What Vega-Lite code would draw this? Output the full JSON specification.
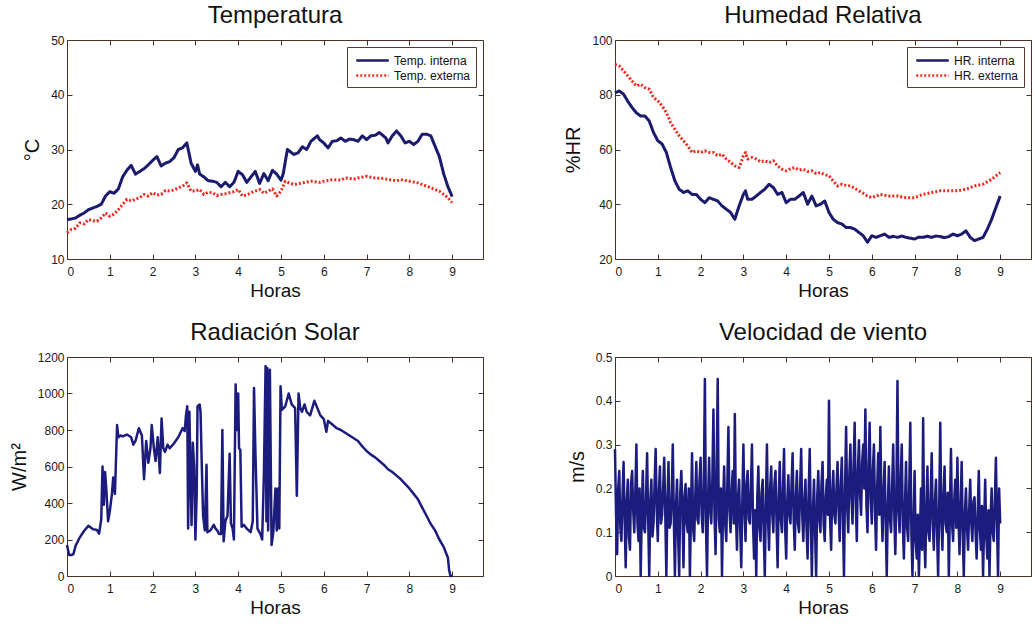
{
  "$schema": "https://vega.github.io/schema/vega-lite/v6.json",
  "padding": {"left": 8, "top": 3, "right": 0, "bottom": 0},
  "background": "white",
  "columns": 2,
  "bounds": "flush",
  "spacing": {"row": 98, "column": 132},
  "resolve": {"scale": {"color": "independent", "strokeDash": "independent"}, "legend": {"color": "independent", "strokeDash": "independent"}},
  "datasets": {
    "temp": [
      {"h":0,"v":17.2,"s":"Temp. interna"},{"h":0.1,"v":17.3,"s":"Temp. interna"},{"h":0.2,"v":17.5,"s":"Temp. interna"},{"h":0.3,"v":18.0,"s":"Temp. interna"},{"h":0.4,"v":18.4,"s":"Temp. interna"},{"h":0.5,"v":19.0,"s":"Temp. interna"},{"h":0.6,"v":19.3,"s":"Temp. interna"},{"h":0.7,"v":19.6,"s":"Temp. interna"},{"h":0.8,"v":20.0,"s":"Temp. interna"},{"h":0.9,"v":21.5,"s":"Temp. interna"},{"h":1.0,"v":22.3,"s":"Temp. interna"},{"h":1.1,"v":22.0,"s":"Temp. interna"},{"h":1.2,"v":22.8,"s":"Temp. interna"},{"h":1.3,"v":25.0,"s":"Temp. interna"},{"h":1.4,"v":26.2,"s":"Temp. interna"},{"h":1.5,"v":27.1,"s":"Temp. interna"},{"h":1.6,"v":25.5,"s":"Temp. interna"},{"h":1.7,"v":26.0,"s":"Temp. interna"},{"h":1.8,"v":26.5,"s":"Temp. interna"},{"h":1.9,"v":27.2,"s":"Temp. interna"},{"h":2.0,"v":28.0,"s":"Temp. interna"},{"h":2.1,"v":28.7,"s":"Temp. interna"},{"h":2.2,"v":27.0,"s":"Temp. interna"},{"h":2.3,"v":27.5,"s":"Temp. interna"},{"h":2.4,"v":27.8,"s":"Temp. interna"},{"h":2.5,"v":28.5,"s":"Temp. interna"},{"h":2.6,"v":30.0,"s":"Temp. interna"},{"h":2.7,"v":30.3,"s":"Temp. interna"},{"h":2.8,"v":31.2,"s":"Temp. interna"},{"h":2.9,"v":27.5,"s":"Temp. interna"},{"h":3.0,"v":26.0,"s":"Temp. interna"},{"h":3.05,"v":27.2,"s":"Temp. interna"},{"h":3.1,"v":25.5,"s":"Temp. interna"},{"h":3.2,"v":25.0,"s":"Temp. interna"},{"h":3.3,"v":24.3,"s":"Temp. interna"},{"h":3.4,"v":24.2,"s":"Temp. interna"},{"h":3.5,"v":24.0,"s":"Temp. interna"},{"h":3.6,"v":23.2,"s":"Temp. interna"},{"h":3.7,"v":24.0,"s":"Temp. interna"},{"h":3.8,"v":23.2,"s":"Temp. interna"},{"h":3.9,"v":24.0,"s":"Temp. interna"},{"h":4.0,"v":26.0,"s":"Temp. interna"},{"h":4.1,"v":25.4,"s":"Temp. interna"},{"h":4.2,"v":24.0,"s":"Temp. interna"},{"h":4.3,"v":25.0,"s":"Temp. interna"},{"h":4.4,"v":26.0,"s":"Temp. interna"},{"h":4.5,"v":23.8,"s":"Temp. interna"},{"h":4.6,"v":25.6,"s":"Temp. interna"},{"h":4.7,"v":24.3,"s":"Temp. interna"},{"h":4.8,"v":26.2,"s":"Temp. interna"},{"h":4.9,"v":25.5,"s":"Temp. interna"},{"h":5.0,"v":24.4,"s":"Temp. interna"},{"h":5.05,"v":25.5,"s":"Temp. interna"},{"h":5.15,"v":30.0,"s":"Temp. interna"},{"h":5.3,"v":29.1,"s":"Temp. interna"},{"h":5.4,"v":29.4,"s":"Temp. interna"},{"h":5.5,"v":30.5,"s":"Temp. interna"},{"h":5.6,"v":30.0,"s":"Temp. interna"},{"h":5.7,"v":31.5,"s":"Temp. interna"},{"h":5.85,"v":32.5,"s":"Temp. interna"},{"h":5.9,"v":31.8,"s":"Temp. interna"},{"h":6.0,"v":31.2,"s":"Temp. interna"},{"h":6.1,"v":30.3,"s":"Temp. interna"},{"h":6.2,"v":31.5,"s":"Temp. interna"},{"h":6.3,"v":31.6,"s":"Temp. interna"},{"h":6.4,"v":32.1,"s":"Temp. interna"},{"h":6.5,"v":31.5,"s":"Temp. interna"},{"h":6.6,"v":31.9,"s":"Temp. interna"},{"h":6.7,"v":31.8,"s":"Temp. interna"},{"h":6.8,"v":31.5,"s":"Temp. interna"},{"h":6.9,"v":32.5,"s":"Temp. interna"},{"h":7.0,"v":31.8,"s":"Temp. interna"},{"h":7.1,"v":32.5,"s":"Temp. interna"},{"h":7.2,"v":32.6,"s":"Temp. interna"},{"h":7.3,"v":33.1,"s":"Temp. interna"},{"h":7.45,"v":32.1,"s":"Temp. interna"},{"h":7.5,"v":31.2,"s":"Temp. interna"},{"h":7.6,"v":32.5,"s":"Temp. interna"},{"h":7.7,"v":33.4,"s":"Temp. interna"},{"h":7.8,"v":32.5,"s":"Temp. interna"},{"h":7.9,"v":31.2,"s":"Temp. interna"},{"h":8.0,"v":31.5,"s":"Temp. interna"},{"h":8.1,"v":30.9,"s":"Temp. interna"},{"h":8.2,"v":31.5,"s":"Temp. interna"},{"h":8.3,"v":32.8,"s":"Temp. interna"},{"h":8.4,"v":32.8,"s":"Temp. interna"},{"h":8.5,"v":32.5,"s":"Temp. interna"},{"h":8.6,"v":30.6,"s":"Temp. interna"},{"h":8.7,"v":28.7,"s":"Temp. interna"},{"h":8.8,"v":25.6,"s":"Temp. interna"},{"h":8.9,"v":23.2,"s":"Temp. interna"},{"h":9.0,"v":21.4,"s":"Temp. interna"},
      {"h":0,"v":14.8,"s":"Temp. externa"},{"h":0.1,"v":15.4,"s":"Temp. externa"},{"h":0.2,"v":15.6,"s":"Temp. externa"},{"h":0.3,"v":16.6,"s":"Temp. externa"},{"h":0.4,"v":16.4,"s":"Temp. externa"},{"h":0.5,"v":17.2,"s":"Temp. externa"},{"h":0.6,"v":17.0,"s":"Temp. externa"},{"h":0.7,"v":16.9,"s":"Temp. externa"},{"h":0.8,"v":17.5,"s":"Temp. externa"},{"h":0.9,"v":18.4,"s":"Temp. externa"},{"h":1.0,"v":17.8,"s":"Temp. externa"},{"h":1.1,"v":18.2,"s":"Temp. externa"},{"h":1.2,"v":19.0,"s":"Temp. externa"},{"h":1.3,"v":20.0,"s":"Temp. externa"},{"h":1.4,"v":20.9,"s":"Temp. externa"},{"h":1.5,"v":20.6,"s":"Temp. externa"},{"h":1.6,"v":20.9,"s":"Temp. externa"},{"h":1.7,"v":21.2,"s":"Temp. externa"},{"h":1.8,"v":21.8,"s":"Temp. externa"},{"h":1.9,"v":21.5,"s":"Temp. externa"},{"h":2.0,"v":22.1,"s":"Temp. externa"},{"h":2.1,"v":21.7,"s":"Temp. externa"},{"h":2.2,"v":21.8,"s":"Temp. externa"},{"h":2.3,"v":22.5,"s":"Temp. externa"},{"h":2.4,"v":22.4,"s":"Temp. externa"},{"h":2.5,"v":22.6,"s":"Temp. externa"},{"h":2.6,"v":23.0,"s":"Temp. externa"},{"h":2.7,"v":23.3,"s":"Temp. externa"},{"h":2.8,"v":23.9,"s":"Temp. externa"},{"h":2.9,"v":22.4,"s":"Temp. externa"},{"h":3.0,"v":22.4,"s":"Temp. externa"},{"h":3.1,"v":22.7,"s":"Temp. externa"},{"h":3.2,"v":21.8,"s":"Temp. externa"},{"h":3.3,"v":22.2,"s":"Temp. externa"},{"h":3.4,"v":22.1,"s":"Temp. externa"},{"h":3.5,"v":21.6,"s":"Temp. externa"},{"h":3.6,"v":21.8,"s":"Temp. externa"},{"h":3.7,"v":21.9,"s":"Temp. externa"},{"h":3.8,"v":22.1,"s":"Temp. externa"},{"h":3.9,"v":22.3,"s":"Temp. externa"},{"h":4.0,"v":22.7,"s":"Temp. externa"},{"h":4.1,"v":21.5,"s":"Temp. externa"},{"h":4.2,"v":21.7,"s":"Temp. externa"},{"h":4.3,"v":22.1,"s":"Temp. externa"},{"h":4.4,"v":22.4,"s":"Temp. externa"},{"h":4.5,"v":22.7,"s":"Temp. externa"},{"h":4.6,"v":22.0,"s":"Temp. externa"},{"h":4.7,"v":22.4,"s":"Temp. externa"},{"h":4.8,"v":22.8,"s":"Temp. externa"},{"h":4.9,"v":21.5,"s":"Temp. externa"},{"h":5.0,"v":22.4,"s":"Temp. externa"},{"h":5.1,"v":24.2,"s":"Temp. externa"},{"h":5.2,"v":23.9,"s":"Temp. externa"},{"h":5.3,"v":23.6,"s":"Temp. externa"},{"h":5.5,"v":23.9,"s":"Temp. externa"},{"h":5.7,"v":24.2,"s":"Temp. externa"},{"h":5.9,"v":24.0,"s":"Temp. externa"},{"h":6.0,"v":24.2,"s":"Temp. externa"},{"h":6.2,"v":24.5,"s":"Temp. externa"},{"h":6.4,"v":24.4,"s":"Temp. externa"},{"h":6.5,"v":24.8,"s":"Temp. externa"},{"h":6.7,"v":24.6,"s":"Temp. externa"},{"h":6.8,"v":24.8,"s":"Temp. externa"},{"h":7.0,"v":25.1,"s":"Temp. externa"},{"h":7.2,"v":24.8,"s":"Temp. externa"},{"h":7.4,"v":24.7,"s":"Temp. externa"},{"h":7.5,"v":24.5,"s":"Temp. externa"},{"h":7.7,"v":24.3,"s":"Temp. externa"},{"h":7.8,"v":24.5,"s":"Temp. externa"},{"h":8.0,"v":24.2,"s":"Temp. externa"},{"h":8.2,"v":23.9,"s":"Temp. externa"},{"h":8.3,"v":23.6,"s":"Temp. externa"},{"h":8.5,"v":23.0,"s":"Temp. externa"},{"h":8.7,"v":22.4,"s":"Temp. externa"},{"h":8.9,"v":21.2,"s":"Temp. externa"},{"h":9.0,"v":20.3,"s":"Temp. externa"}
    ],
    "hr": [
      {"h":0,"v":80.7,"s":"HR. interna"},{"h":0.1,"v":81.4,"s":"HR. interna"},{"h":0.2,"v":80.2,"s":"HR. interna"},{"h":0.3,"v":77.6,"s":"HR. interna"},{"h":0.4,"v":75.3,"s":"HR. interna"},{"h":0.5,"v":73.4,"s":"HR. interna"},{"h":0.6,"v":72.2,"s":"HR. interna"},{"h":0.7,"v":72.2,"s":"HR. interna"},{"h":0.8,"v":70.4,"s":"HR. interna"},{"h":0.9,"v":66.2,"s":"HR. interna"},{"h":1.0,"v":63.2,"s":"HR. interna"},{"h":1.1,"v":62.0,"s":"HR. interna"},{"h":1.2,"v":58.9,"s":"HR. interna"},{"h":1.3,"v":53.4,"s":"HR. interna"},{"h":1.4,"v":48.5,"s":"HR. interna"},{"h":1.5,"v":45.5,"s":"HR. interna"},{"h":1.6,"v":44.3,"s":"HR. interna"},{"h":1.7,"v":44.9,"s":"HR. interna"},{"h":1.8,"v":43.6,"s":"HR. interna"},{"h":1.9,"v":43.6,"s":"HR. interna"},{"h":2.0,"v":41.8,"s":"HR. interna"},{"h":2.1,"v":40.6,"s":"HR. interna"},{"h":2.2,"v":42.4,"s":"HR. interna"},{"h":2.3,"v":41.8,"s":"HR. interna"},{"h":2.4,"v":41.2,"s":"HR. interna"},{"h":2.5,"v":39.4,"s":"HR. interna"},{"h":2.6,"v":38.2,"s":"HR. interna"},{"h":2.7,"v":37.0,"s":"HR. interna"},{"h":2.8,"v":34.5,"s":"HR. interna"},{"h":2.85,"v":37.0,"s":"HR. interna"},{"h":2.9,"v":39.4,"s":"HR. interna"},{"h":3.0,"v":43.6,"s":"HR. interna"},{"h":3.05,"v":44.9,"s":"HR. interna"},{"h":3.1,"v":41.8,"s":"HR. interna"},{"h":3.2,"v":41.8,"s":"HR. interna"},{"h":3.3,"v":43.0,"s":"HR. interna"},{"h":3.4,"v":44.3,"s":"HR. interna"},{"h":3.5,"v":45.5,"s":"HR. interna"},{"h":3.6,"v":47.3,"s":"HR. interna"},{"h":3.7,"v":46.1,"s":"HR. interna"},{"h":3.8,"v":43.6,"s":"HR. interna"},{"h":3.9,"v":44.3,"s":"HR. interna"},{"h":4.0,"v":40.6,"s":"HR. interna"},{"h":4.1,"v":41.8,"s":"HR. interna"},{"h":4.2,"v":41.8,"s":"HR. interna"},{"h":4.3,"v":43.0,"s":"HR. interna"},{"h":4.4,"v":44.3,"s":"HR. interna"},{"h":4.5,"v":40.0,"s":"HR. interna"},{"h":4.6,"v":43.0,"s":"HR. interna"},{"h":4.7,"v":39.4,"s":"HR. interna"},{"h":4.8,"v":40.0,"s":"HR. interna"},{"h":4.9,"v":41.2,"s":"HR. interna"},{"h":5.0,"v":37.0,"s":"HR. interna"},{"h":5.1,"v":34.5,"s":"HR. interna"},{"h":5.2,"v":33.3,"s":"HR. interna"},{"h":5.3,"v":32.8,"s":"HR. interna"},{"h":5.4,"v":31.5,"s":"HR. interna"},{"h":5.5,"v":31.5,"s":"HR. interna"},{"h":5.6,"v":30.9,"s":"HR. interna"},{"h":5.7,"v":29.7,"s":"HR. interna"},{"h":5.8,"v":28.5,"s":"HR. interna"},{"h":5.9,"v":26.1,"s":"HR. interna"},{"h":6.0,"v":28.5,"s":"HR. interna"},{"h":6.1,"v":27.9,"s":"HR. interna"},{"h":6.2,"v":28.5,"s":"HR. interna"},{"h":6.3,"v":29.1,"s":"HR. interna"},{"h":6.4,"v":27.9,"s":"HR. interna"},{"h":6.5,"v":28.3,"s":"HR. interna"},{"h":6.6,"v":27.9,"s":"HR. interna"},{"h":6.7,"v":28.4,"s":"HR. interna"},{"h":6.8,"v":27.9,"s":"HR. interna"},{"h":6.9,"v":27.6,"s":"HR. interna"},{"h":7.0,"v":27.3,"s":"HR. interna"},{"h":7.1,"v":28.0,"s":"HR. interna"},{"h":7.2,"v":27.9,"s":"HR. interna"},{"h":7.3,"v":28.3,"s":"HR. interna"},{"h":7.4,"v":27.9,"s":"HR. interna"},{"h":7.5,"v":28.4,"s":"HR. interna"},{"h":7.6,"v":28.2,"s":"HR. interna"},{"h":7.7,"v":27.8,"s":"HR. interna"},{"h":7.8,"v":28.2,"s":"HR. interna"},{"h":7.9,"v":29.1,"s":"HR. interna"},{"h":8.0,"v":28.5,"s":"HR. interna"},{"h":8.1,"v":29.1,"s":"HR. interna"},{"h":8.2,"v":30.3,"s":"HR. interna"},{"h":8.3,"v":27.9,"s":"HR. interna"},{"h":8.4,"v":26.7,"s":"HR. interna"},{"h":8.5,"v":27.3,"s":"HR. interna"},{"h":8.6,"v":27.9,"s":"HR. interna"},{"h":8.7,"v":30.9,"s":"HR. interna"},{"h":8.8,"v":34.5,"s":"HR. interna"},{"h":8.9,"v":38.8,"s":"HR. interna"},{"h":9.0,"v":43.0,"s":"HR. interna"},
      {"h":0,"v":91.1,"s":"HR. externa"},{"h":0.1,"v":90.5,"s":"HR. externa"},{"h":0.2,"v":88.7,"s":"HR. externa"},{"h":0.3,"v":86.9,"s":"HR. externa"},{"h":0.4,"v":85.0,"s":"HR. externa"},{"h":0.5,"v":83.2,"s":"HR. externa"},{"h":0.6,"v":83.8,"s":"HR. externa"},{"h":0.7,"v":82.6,"s":"HR. externa"},{"h":0.8,"v":82.0,"s":"HR. externa"},{"h":0.9,"v":79.0,"s":"HR. externa"},{"h":1.0,"v":77.8,"s":"HR. externa"},{"h":1.1,"v":75.9,"s":"HR. externa"},{"h":1.2,"v":73.5,"s":"HR. externa"},{"h":1.3,"v":69.8,"s":"HR. externa"},{"h":1.4,"v":67.4,"s":"HR. externa"},{"h":1.5,"v":65.0,"s":"HR. externa"},{"h":1.6,"v":63.2,"s":"HR. externa"},{"h":1.7,"v":61.3,"s":"HR. externa"},{"h":1.8,"v":58.9,"s":"HR. externa"},{"h":1.9,"v":59.5,"s":"HR. externa"},{"h":2.0,"v":58.9,"s":"HR. externa"},{"h":2.1,"v":59.5,"s":"HR. externa"},{"h":2.2,"v":58.9,"s":"HR. externa"},{"h":2.3,"v":58.9,"s":"HR. externa"},{"h":2.4,"v":57.7,"s":"HR. externa"},{"h":2.5,"v":58.3,"s":"HR. externa"},{"h":2.6,"v":56.5,"s":"HR. externa"},{"h":2.7,"v":55.3,"s":"HR. externa"},{"h":2.8,"v":54.0,"s":"HR. externa"},{"h":2.9,"v":53.4,"s":"HR. externa"},{"h":3.0,"v":57.7,"s":"HR. externa"},{"h":3.05,"v":58.9,"s":"HR. externa"},{"h":3.1,"v":56.5,"s":"HR. externa"},{"h":3.2,"v":57.1,"s":"HR. externa"},{"h":3.3,"v":56.5,"s":"HR. externa"},{"h":3.4,"v":55.5,"s":"HR. externa"},{"h":3.5,"v":55.9,"s":"HR. externa"},{"h":3.6,"v":55.2,"s":"HR. externa"},{"h":3.7,"v":55.9,"s":"HR. externa"},{"h":3.8,"v":54.0,"s":"HR. externa"},{"h":3.9,"v":52.8,"s":"HR. externa"},{"h":4.0,"v":52.2,"s":"HR. externa"},{"h":4.1,"v":53.0,"s":"HR. externa"},{"h":4.2,"v":53.4,"s":"HR. externa"},{"h":4.3,"v":52.5,"s":"HR. externa"},{"h":4.4,"v":52.8,"s":"HR. externa"},{"h":4.5,"v":52.0,"s":"HR. externa"},{"h":4.6,"v":52.2,"s":"HR. externa"},{"h":4.7,"v":51.2,"s":"HR. externa"},{"h":4.8,"v":51.6,"s":"HR. externa"},{"h":4.9,"v":50.8,"s":"HR. externa"},{"h":5.0,"v":50.4,"s":"HR. externa"},{"h":5.1,"v":48.5,"s":"HR. externa"},{"h":5.2,"v":46.7,"s":"HR. externa"},{"h":5.3,"v":47.3,"s":"HR. externa"},{"h":5.4,"v":46.9,"s":"HR. externa"},{"h":5.5,"v":46.7,"s":"HR. externa"},{"h":5.6,"v":45.8,"s":"HR. externa"},{"h":5.7,"v":44.9,"s":"HR. externa"},{"h":5.8,"v":44.0,"s":"HR. externa"},{"h":5.9,"v":43.0,"s":"HR. externa"},{"h":6.0,"v":42.4,"s":"HR. externa"},{"h":6.2,"v":43.6,"s":"HR. externa"},{"h":6.4,"v":43.0,"s":"HR. externa"},{"h":6.6,"v":43.0,"s":"HR. externa"},{"h":6.8,"v":42.4,"s":"HR. externa"},{"h":7.0,"v":42.4,"s":"HR. externa"},{"h":7.2,"v":43.6,"s":"HR. externa"},{"h":7.4,"v":44.3,"s":"HR. externa"},{"h":7.6,"v":44.9,"s":"HR. externa"},{"h":7.8,"v":44.9,"s":"HR. externa"},{"h":8.0,"v":44.9,"s":"HR. externa"},{"h":8.2,"v":45.5,"s":"HR. externa"},{"h":8.4,"v":46.7,"s":"HR. externa"},{"h":8.6,"v":47.3,"s":"HR. externa"},{"h":8.8,"v":49.1,"s":"HR. externa"},{"h":9.0,"v":51.6,"s":"HR. externa"}
    ],
    "rad": [
      {"h":0,"v":170},{"h":0.05,"v":115},{"h":0.1,"v":115},{"h":0.15,"v":120},{"h":0.2,"v":165},{"h":0.3,"v":212},{"h":0.4,"v":248},{"h":0.5,"v":275},{"h":0.6,"v":257},{"h":0.7,"v":252},{"h":0.75,"v":232},{"h":0.8,"v":310},{"h":0.83,"v":600},{"h":0.86,"v":390},{"h":0.89,"v":570},{"h":0.92,"v":470},{"h":0.96,"v":300},{"h":1.0,"v":355},{"h":1.05,"v":450},{"h":1.08,"v":540},{"h":1.12,"v":450},{"h":1.17,"v":827},{"h":1.2,"v":760},{"h":1.25,"v":770},{"h":1.3,"v":765},{"h":1.4,"v":775},{"h":1.5,"v":760},{"h":1.55,"v":720},{"h":1.6,"v":740},{"h":1.68,"v":810},{"h":1.75,"v":770},{"h":1.8,"v":530},{"h":1.85,"v":740},{"h":1.9,"v":620},{"h":1.95,"v":700},{"h":1.98,"v":827},{"h":2.03,"v":700},{"h":2.07,"v":630},{"h":2.12,"v":760},{"h":2.17,"v":565},{"h":2.21,"v":863},{"h":2.25,"v":700},{"h":2.29,"v":680},{"h":2.35,"v":720},{"h":2.4,"v":700},{"h":2.5,"v":727},{"h":2.6,"v":760},{"h":2.7,"v":810},{"h":2.75,"v":795},{"h":2.78,"v":880},{"h":2.81,"v":930},{"h":2.83,"v":260},{"h":2.86,"v":900},{"h":2.89,"v":520},{"h":2.91,"v":280},{"h":2.94,"v":730},{"h":2.97,"v":600},{"h":3.0,"v":200},{"h":3.03,"v":450},{"h":3.05,"v":930},{"h":3.1,"v":940},{"h":3.12,"v":900},{"h":3.15,"v":600},{"h":3.18,"v":330},{"h":3.22,"v":250},{"h":3.26,"v":610},{"h":3.28,"v":240},{"h":3.35,"v":250},{"h":3.43,"v":280},{"h":3.47,"v":260},{"h":3.51,"v":250},{"h":3.55,"v":230},{"h":3.6,"v":230},{"h":3.63,"v":800},{"h":3.66,"v":190},{"h":3.7,"v":300},{"h":3.75,"v":330},{"h":3.8,"v":670},{"h":3.83,"v":290},{"h":3.87,"v":260},{"h":3.9,"v":200},{"h":3.94,"v":1050},{"h":3.97,"v":800},{"h":4.0,"v":1000},{"h":4.02,"v":700},{"h":4.05,"v":690},{"h":4.08,"v":270},{"h":4.13,"v":280},{"h":4.2,"v":260},{"h":4.29,"v":240},{"h":4.34,"v":300},{"h":4.37,"v":1030},{"h":4.4,"v":700},{"h":4.45,"v":260},{"h":4.52,"v":230},{"h":4.56,"v":200},{"h":4.6,"v":550},{"h":4.64,"v":1150},{"h":4.66,"v":300},{"h":4.68,"v":1140},{"h":4.7,"v":250},{"h":4.74,"v":1130},{"h":4.78,"v":170},{"h":4.82,"v":240},{"h":4.87,"v":480},{"h":4.9,"v":250},{"h":4.93,"v":480},{"h":4.96,"v":260},{"h":4.99,"v":1040},{"h":5.02,"v":910},{"h":5.1,"v":930},{"h":5.18,"v":1000},{"h":5.25,"v":940},{"h":5.33,"v":920},{"h":5.37,"v":440},{"h":5.41,"v":1000},{"h":5.45,"v":920},{"h":5.49,"v":900},{"h":5.55,"v":940},{"h":5.6,"v":900},{"h":5.68,"v":880},{"h":5.78,"v":960},{"h":5.85,"v":920},{"h":5.92,"v":880},{"h":6.0,"v":860},{"h":6.06,"v":790},{"h":6.1,"v":850},{"h":6.2,"v":830},{"h":6.3,"v":810},{"h":6.4,"v":800},{"h":6.5,"v":785},{"h":6.6,"v":770},{"h":6.7,"v":755},{"h":6.8,"v":740},{"h":6.9,"v":710},{"h":7.0,"v":685},{"h":7.1,"v":665},{"h":7.2,"v":650},{"h":7.3,"v":630},{"h":7.4,"v":610},{"h":7.5,"v":585},{"h":7.6,"v":570},{"h":7.7,"v":550},{"h":7.8,"v":530},{"h":7.9,"v":505},{"h":8.0,"v":480},{"h":8.1,"v":450},{"h":8.2,"v":420},{"h":8.3,"v":375},{"h":8.4,"v":330},{"h":8.5,"v":285},{"h":8.6,"v":250},{"h":8.7,"v":200},{"h":8.8,"v":160},{"h":8.85,"v":130},{"h":8.9,"v":100},{"h":8.93,"v":30},{"h":8.96,"v":0},{"h":9.0,"v":0}
    ],
    "wind": [
      {"h":0,"v":0.29},{"h":0.025,"v":0.14},{"h":0.05,"v":0.05},{"h":0.075,"v":0.2},{"h":0.1,"v":0.24},{"h":0.125,"v":0.11},{"h":0.15,"v":0.08},{"h":0.175,"v":0.18},{"h":0.2,"v":0.26},{"h":0.225,"v":0.13},{"h":0.25,"v":0.02},{"h":0.275,"v":0.17},{"h":0.3,"v":0.22},{"h":0.325,"v":0.09},{"h":0.35,"v":0.06},{"h":0.375,"v":0.21},{"h":0.4,"v":0.24},{"h":0.425,"v":0.15},{"h":0.45,"v":0.1},{"h":0.475,"v":0.19},{"h":0.5,"v":0.3},{"h":0.525,"v":0.12},{"h":0.55,"v":0.08},{"h":0.575,"v":0.2},{"h":0.6,"v":0},{"h":0.625,"v":0.14},{"h":0.65,"v":0.24},{"h":0.675,"v":0.11},{"h":0.7,"v":0.1},{"h":0.725,"v":0.18},{"h":0.75,"v":0.28},{"h":0.775,"v":0.13},{"h":0.8,"v":0},{"h":0.825,"v":0.17},{"h":0.85,"v":0.22},{"h":0.875,"v":0.09},{"h":0.9,"v":0.12},{"h":0.925,"v":0.21},{"h":0.95,"v":0.29},{"h":0.975,"v":0.15},
      {"h":1.0,"v":0.08},{"h":1.025,"v":0.19},{"h":1.05,"v":0.25},{"h":1.075,"v":0.12},{"h":1.1,"v":0.14},{"h":1.125,"v":0.2},{"h":1.15,"v":0.27},{"h":1.175,"v":0.14},{"h":1.2,"v":0},{"h":1.225,"v":0.17},{"h":1.25,"v":0.26},{"h":1.275,"v":0.11},{"h":1.3,"v":0.12},{"h":1.325,"v":0.18},{"h":1.35,"v":0.3},{"h":1.375,"v":0.13},{"h":1.4,"v":0},{"h":1.425,"v":0.16},{"h":1.45,"v":0.22},{"h":1.475,"v":0.09},{"h":1.5,"v":0},{"h":1.525,"v":0.19},{"h":1.55,"v":0.24},{"h":1.575,"v":0.15},{"h":1.6,"v":0.02},{"h":1.625,"v":0.18},{"h":1.65,"v":0.21},{"h":1.675,"v":0.12},{"h":1.7,"v":0.1},{"h":1.725,"v":0.2},{"h":1.75,"v":0},{"h":1.775,"v":0.14},{"h":1.8,"v":0.28},{"h":1.825,"v":0.11},{"h":1.85,"v":0.08},{"h":1.875,"v":0.18},{"h":1.9,"v":0.26},{"h":1.925,"v":0.13},{"h":1.95,"v":0.12},{"h":1.975,"v":0.22},
      {"h":2.0,"v":0.27},{"h":2.025,"v":0.14},{"h":2.05,"v":0.1},{"h":2.075,"v":0.2},{"h":2.1,"v":0.45},{"h":2.125,"v":0.12},{"h":2.15,"v":0},{"h":2.175,"v":0.18},{"h":2.2,"v":0.27},{"h":2.225,"v":0.15},{"h":2.25,"v":0.12},{"h":2.275,"v":0.22},{"h":2.3,"v":0.38},{"h":2.325,"v":0.14},{"h":2.35,"v":0.05},{"h":2.375,"v":0.24},{"h":2.4,"v":0.45},{"h":2.425,"v":0.13},{"h":2.45,"v":0.1},{"h":2.475,"v":0.2},{"h":2.5,"v":0},{"h":2.525,"v":0.16},{"h":2.55,"v":0.25},{"h":2.575,"v":0.12},{"h":2.6,"v":0.08},{"h":2.625,"v":0.21},{"h":2.65,"v":0.34},{"h":2.675,"v":0.15},{"h":2.7,"v":0.1},{"h":2.725,"v":0.19},{"h":2.75,"v":0.24},{"h":2.775,"v":0.12},{"h":2.8,"v":0.37},{"h":2.825,"v":0.14},{"h":2.85,"v":0.06},{"h":2.875,"v":0.18},{"h":2.9,"v":0.22},{"h":2.925,"v":0.11},{"h":2.95,"v":0.02},{"h":2.975,"v":0.17},
      {"h":3.0,"v":0.3},{"h":3.025,"v":0.15},{"h":3.05,"v":0.08},{"h":3.075,"v":0.21},{"h":3.1,"v":0.24},{"h":3.125,"v":0.13},{"h":3.15,"v":0.12},{"h":3.175,"v":0.2},{"h":3.2,"v":0.3},{"h":3.225,"v":0.12},{"h":3.25,"v":0.04},{"h":3.275,"v":0.15},{"h":3.3,"v":0},{"h":3.325,"v":0.18},{"h":3.35,"v":0.25},{"h":3.375,"v":0.11},{"h":3.4,"v":0.08},{"h":3.425,"v":0.19},{"h":3.45,"v":0.22},{"h":3.475,"v":0.1},{"h":3.5,"v":0},{"h":3.525,"v":0.17},{"h":3.55,"v":0.3},{"h":3.575,"v":0.13},{"h":3.6,"v":0.06},{"h":3.625,"v":0.2},{"h":3.65,"v":0.25},{"h":3.675,"v":0.14},{"h":3.7,"v":0.1},{"h":3.725,"v":0.21},{"h":3.75,"v":0.24},{"h":3.775,"v":0.12},{"h":3.8,"v":0.02},{"h":3.825,"v":0.18},{"h":3.85,"v":0.26},{"h":3.875,"v":0.13},{"h":3.9,"v":0.1},{"h":3.925,"v":0.2},{"h":3.95,"v":0.29},{"h":3.975,"v":0.11},
      {"h":4.0,"v":0.04},{"h":4.025,"v":0.17},{"h":4.05,"v":0.23},{"h":4.075,"v":0.14},{"h":4.1,"v":0.12},{"h":4.125,"v":0.21},{"h":4.15,"v":0.28},{"h":4.175,"v":0.13},{"h":4.2,"v":0.06},{"h":4.225,"v":0.18},{"h":4.25,"v":0.24},{"h":4.275,"v":0.12},{"h":4.3,"v":0.1},{"h":4.325,"v":0.2},{"h":4.35,"v":0.29},{"h":4.375,"v":0.14},{"h":4.4,"v":0.08},{"h":4.425,"v":0.17},{"h":4.45,"v":0.22},{"h":4.475,"v":0.11},{"h":4.5,"v":0.04},{"h":4.525,"v":0.19},{"h":4.55,"v":0.29},{"h":4.575,"v":0.12},{"h":4.6,"v":0},{"h":4.625,"v":0.15},{"h":4.65,"v":0.22},{"h":4.675,"v":0.1},{"h":4.7,"v":0},{"h":4.725,"v":0.18},{"h":4.75,"v":0.24},{"h":4.775,"v":0.13},{"h":4.8,"v":0.1},{"h":4.825,"v":0.21},{"h":4.85,"v":0.26},{"h":4.875,"v":0.12},{"h":4.9,"v":0.08},{"h":4.925,"v":0.18},{"h":4.95,"v":0.22},{"h":4.975,"v":0.14},
      {"h":5.0,"v":0.4},{"h":5.025,"v":0.13},{"h":5.05,"v":0.06},{"h":5.075,"v":0.19},{"h":5.1,"v":0.24},{"h":5.125,"v":0.14},{"h":5.15,"v":0.12},{"h":5.175,"v":0.2},{"h":5.2,"v":0.26},{"h":5.225,"v":0.15},{"h":5.25,"v":0.08},{"h":5.275,"v":0.21},{"h":5.3,"v":0.27},{"h":5.325,"v":0.13},{"h":5.35,"v":0},{"h":5.375,"v":0.2},{"h":5.4,"v":0.34},{"h":5.425,"v":0.16},{"h":5.45,"v":0.1},{"h":5.475,"v":0.23},{"h":5.5,"v":0.3},{"h":5.525,"v":0.18},{"h":5.55,"v":0.12},{"h":5.575,"v":0.25},{"h":5.6,"v":0.35},{"h":5.625,"v":0.17},{"h":5.65,"v":0.08},{"h":5.675,"v":0.24},{"h":5.7,"v":0.31},{"h":5.725,"v":0.19},{"h":5.75,"v":0.14},{"h":5.775,"v":0.26},{"h":5.8,"v":0.3},{"h":5.825,"v":0.2},{"h":5.85,"v":0.38},{"h":5.875,"v":0.16},{"h":5.9,"v":0.1},{"h":5.925,"v":0.25},{"h":5.95,"v":0.35},{"h":5.975,"v":0.18},
      {"h":6.0,"v":0.12},{"h":6.025,"v":0.24},{"h":6.05,"v":0.3},{"h":6.075,"v":0.15},{"h":6.1,"v":0.06},{"h":6.125,"v":0.2},{"h":6.15,"v":0.28},{"h":6.175,"v":0.14},{"h":6.2,"v":0.34},{"h":6.225,"v":0.17},{"h":6.25,"v":0.08},{"h":6.275,"v":0.19},{"h":6.3,"v":0.26},{"h":6.325,"v":0.12},{"h":6.35,"v":0},{"h":6.375,"v":0.16},{"h":6.4,"v":0.25},{"h":6.425,"v":0.13},{"h":6.45,"v":0.1},{"h":6.475,"v":0.2},{"h":6.5,"v":0.3},{"h":6.525,"v":0.14},{"h":6.55,"v":0.05},{"h":6.575,"v":0.19},{"h":6.6,"v":0.445},{"h":6.625,"v":0.15},{"h":6.65,"v":0.1},{"h":6.675,"v":0.22},{"h":6.7,"v":0.3},{"h":6.725,"v":0.12},{"h":6.75,"v":0.04},{"h":6.775,"v":0.16},{"h":6.8,"v":0.26},{"h":6.825,"v":0.11},{"h":6.85,"v":0.08},{"h":6.875,"v":0.2},{"h":6.9,"v":0.35},{"h":6.925,"v":0.1},{"h":6.95,"v":0},{"h":6.975,"v":0.12},
      {"h":7.0,"v":0.24},{"h":7.025,"v":0.08},{"h":7.05,"v":0.04},{"h":7.075,"v":0.14},{"h":7.1,"v":0},{"h":7.125,"v":0.1},{"h":7.15,"v":0.2},{"h":7.175,"v":0.06},{"h":7.2,"v":0.36},{"h":7.225,"v":0.1},{"h":7.25,"v":0.02},{"h":7.275,"v":0.15},{"h":7.3,"v":0.25},{"h":7.325,"v":0.1},{"h":7.35,"v":0.08},{"h":7.375,"v":0.18},{"h":7.4,"v":0.28},{"h":7.425,"v":0.12},{"h":7.45,"v":0.06},{"h":7.475,"v":0.17},{"h":7.5,"v":0.22},{"h":7.525,"v":0.1},{"h":7.55,"v":0},{"h":7.575,"v":0.16},{"h":7.6,"v":0.35},{"h":7.625,"v":0.13},{"h":7.65,"v":0.06},{"h":7.675,"v":0.18},{"h":7.7,"v":0.25},{"h":7.725,"v":0.12},{"h":7.75,"v":0.1},{"h":7.775,"v":0.19},{"h":7.8,"v":0},{"h":7.825,"v":0.15},{"h":7.85,"v":0.29},{"h":7.875,"v":0.12},{"h":7.9,"v":0.08},{"h":7.925,"v":0.17},{"h":7.95,"v":0.22},{"h":7.975,"v":0.11},
      {"h":8.0,"v":0.27},{"h":8.025,"v":0.13},{"h":8.05,"v":0.05},{"h":8.075,"v":0.16},{"h":8.1,"v":0.26},{"h":8.125,"v":0.1},{"h":8.15,"v":0},{"h":8.175,"v":0.14},{"h":8.2,"v":0.2},{"h":8.225,"v":0.11},{"h":8.25,"v":0.06},{"h":8.275,"v":0.15},{"h":8.3,"v":0.22},{"h":8.325,"v":0.12},{"h":8.35,"v":0.08},{"h":8.375,"v":0.17},{"h":8.4,"v":0.18},{"h":8.425,"v":0.1},{"h":8.45,"v":0.04},{"h":8.475,"v":0.14},{"h":8.5,"v":0.24},{"h":8.525,"v":0.11},{"h":8.55,"v":0.06},{"h":8.575,"v":0.16},{"h":8.6,"v":0},{"h":8.625,"v":0.12},{"h":8.65,"v":0.22},{"h":8.675,"v":0.09},{"h":8.7,"v":0.04},{"h":8.725,"v":0.15},{"h":8.75,"v":0},{"h":8.775,"v":0.13},{"h":8.8,"v":0.2},{"h":8.825,"v":0.1},{"h":8.85,"v":0.08},{"h":8.875,"v":0.17},{"h":8.9,"v":0.27},{"h":8.925,"v":0.12},{"h":8.95,"v":0},{"h":8.975,"v":0.2},{"h":9.0,"v":0.12}
    ]
  },
  "concat": [
    {
      "data": {"name": "temp"},
      "width": 416, "height": 219,
      "title": {"text": "Temperatura"},
      "layer": [
        {
          "mark": {"type": "line", "strokeWidth": 3, "strokeJoin": "round"},
          "encoding": {
            "x": {"field": "h", "type": "quantitative", "scale": {"domain": [0, 9.72], "nice": false, "zero": false}, "axis": {"orient": "bottom", "values": [0,1,2,3,4,5,6,7,8,9], "title": "Horas"}},
            "y": {"field": "v", "type": "quantitative", "scale": {"domain": [10, 50], "nice": false, "zero": false}, "axis": {"orient": "left", "values": [10,20,30,40,50], "title": "°C"}},
            "color": {"field": "s", "type": "nominal", "scale": {"domain": ["Temp. interna", "Temp. externa"], "range": ["#1a1a6e", "#f0281c"]}, "legend": {"title": null, "orient": "top-right"}},
            "strokeDash": {"field": "s", "type": "nominal", "scale": {"domain": ["Temp. interna", "Temp. externa"], "range": [[1, 0], [2, 2]]}, "legend": {"title": null, "orient": "top-right"}}
          }
        },
        {
          "mark": {"type": "line", "strokeOpacity": 0},
          "encoding": {
            "x": {"field": "h", "type": "quantitative", "scale": {"domain": [0, 9.72], "nice": false, "zero": false}, "axis": {"orient": "top", "values": [0,1,2,3,4,5,6,7,8,9], "labels": false, "title": null}},
            "y": {"field": "v", "type": "quantitative", "scale": {"domain": [10, 50], "nice": false, "zero": false}, "axis": {"orient": "right", "values": [10,20,30,40,50], "labels": false, "title": null}}
          }
        }
      ],
      "resolve": {"axis": {"x": "independent", "y": "independent"}}
    },
    {
      "data": {"name": "hr"},
      "width": 416, "height": 219,
      "title": {"text": "Humedad Relativa"},
      "layer": [
        {
          "mark": {"type": "line", "strokeWidth": 3, "strokeJoin": "round"},
          "encoding": {
            "x": {"field": "h", "type": "quantitative", "scale": {"domain": [0, 9.72], "nice": false, "zero": false}, "axis": {"orient": "bottom", "values": [0,1,2,3,4,5,6,7,8,9], "title": "Horas"}},
            "y": {"field": "v", "type": "quantitative", "scale": {"domain": [20, 100], "nice": false, "zero": false}, "axis": {"orient": "left", "values": [20,40,60,80,100], "title": "%HR"}},
            "color": {"field": "s", "type": "nominal", "scale": {"domain": ["HR. interna", "HR. externa"], "range": ["#1a1a6e", "#f0281c"]}, "legend": {"title": null, "orient": "top-right"}},
            "strokeDash": {"field": "s", "type": "nominal", "scale": {"domain": ["HR. interna", "HR. externa"], "range": [[1, 0], [2, 2]]}, "legend": {"title": null, "orient": "top-right"}}
          }
        },
        {
          "mark": {"type": "line", "strokeOpacity": 0},
          "encoding": {
            "x": {"field": "h", "type": "quantitative", "scale": {"domain": [0, 9.72], "nice": false, "zero": false}, "axis": {"orient": "top", "values": [0,1,2,3,4,5,6,7,8,9], "labels": false, "title": null}},
            "y": {"field": "v", "type": "quantitative", "scale": {"domain": [20, 100], "nice": false, "zero": false}, "axis": {"orient": "right", "values": [20,40,60,80,100], "labels": false, "title": null}}
          }
        }
      ],
      "resolve": {"axis": {"x": "independent", "y": "independent"}}
    },
    {
      "data": {"name": "rad"},
      "width": 416, "height": 219,
      "title": {"text": "Radiación Solar"},
      "layer": [
        {
          "mark": {"type": "line", "strokeWidth": 2.5, "color": "#1c1c7e", "strokeJoin": "round"},
          "encoding": {
            "x": {"field": "h", "type": "quantitative", "scale": {"domain": [0, 9.72], "nice": false, "zero": false}, "axis": {"orient": "bottom", "values": [0,1,2,3,4,5,6,7,8,9], "title": "Horas"}},
            "y": {"field": "v", "type": "quantitative", "scale": {"domain": [0, 1200], "nice": false}, "axis": {"orient": "left", "values": [0,200,400,600,800,1000,1200], "format": "d", "title": "W/m²"}}
          }
        },
        {
          "mark": {"type": "line", "strokeOpacity": 0},
          "encoding": {
            "x": {"field": "h", "type": "quantitative", "scale": {"domain": [0, 9.72], "nice": false, "zero": false}, "axis": {"orient": "top", "values": [0,1,2,3,4,5,6,7,8,9], "labels": false, "title": null}},
            "y": {"field": "v", "type": "quantitative", "scale": {"domain": [0, 1200], "nice": false}, "axis": {"orient": "right", "values": [0,200,400,600,800,1000,1200], "labels": false, "title": null}}
          }
        }
      ],
      "resolve": {"axis": {"x": "independent", "y": "independent"}}
    },
    {
      "data": {"name": "wind"},
      "width": 416, "height": 219,
      "title": {"text": "Velocidad de viento"},
      "layer": [
        {
          "mark": {"type": "line", "strokeWidth": 2.5, "color": "#1c1c7e", "strokeJoin": "round"},
          "encoding": {
            "x": {"field": "h", "type": "quantitative", "scale": {"domain": [0, 9.72], "nice": false, "zero": false}, "axis": {"orient": "bottom", "values": [0,1,2,3,4,5,6,7,8,9], "title": "Horas"}},
            "y": {"field": "v", "type": "quantitative", "scale": {"domain": [0, 0.5], "nice": false}, "axis": {"orient": "left", "values": [0,0.1,0.2,0.3,0.4,0.5], "labelExpr": "datum.value == 0 ? '0' : format(datum.value, '.1f')", "title": "m/s"}}
          }
        },
        {
          "mark": {"type": "line", "strokeOpacity": 0},
          "encoding": {
            "x": {"field": "h", "type": "quantitative", "scale": {"domain": [0, 9.72], "nice": false, "zero": false}, "axis": {"orient": "top", "values": [0,1,2,3,4,5,6,7,8,9], "labels": false, "title": null}},
            "y": {"field": "v", "type": "quantitative", "scale": {"domain": [0, 0.5], "nice": false}, "axis": {"orient": "right", "values": [0,0.1,0.2,0.3,0.4,0.5], "labels": false, "title": null}}
          }
        }
      ],
      "resolve": {"axis": {"x": "independent", "y": "independent"}}
    }
  ],
  "config": {
    "font": "Liberation Sans",
    "view": {"stroke": "#4a3024", "strokeWidth": 1},
    "axis": {
      "domain": false, "grid": false, "ticks": true, "tickSize": -5, "tickColor": "#4a3024",
      "labelFont": "Liberation Sans", "labelFontSize": 12, "labelColor": "#1a1a1a",
      "titleFont": "Liberation Sans", "titleFontSize": 19, "titleFontWeight": "normal", "titleColor": "#111111"
    },
    "axisX": {"labelPadding": 12, "titlePadding": 4},
    "axisY": {"labelPadding": 8, "titlePadding": 8, "titleFontSize": 20},
    "title": {"font": "Liberation Sans", "fontSize": 24, "fontWeight": "normal", "frame": "group", "anchor": "middle", "offset": 6, "color": "#111111"},
    "legend": {
      "orient": "top-right", "offset": 7, "strokeColor": "#5a3a2a", "fillColor": "white", "padding": 5,
      "labelFont": "Liberation Sans", "labelFontSize": 12, "labelColor": "#111111",
      "symbolSize": 200, "symbolStrokeWidth": 2.5, "symbolType": "M-0.6,0H4", "rowPadding": 0, "labelOffset": 25
    }
  }
}
